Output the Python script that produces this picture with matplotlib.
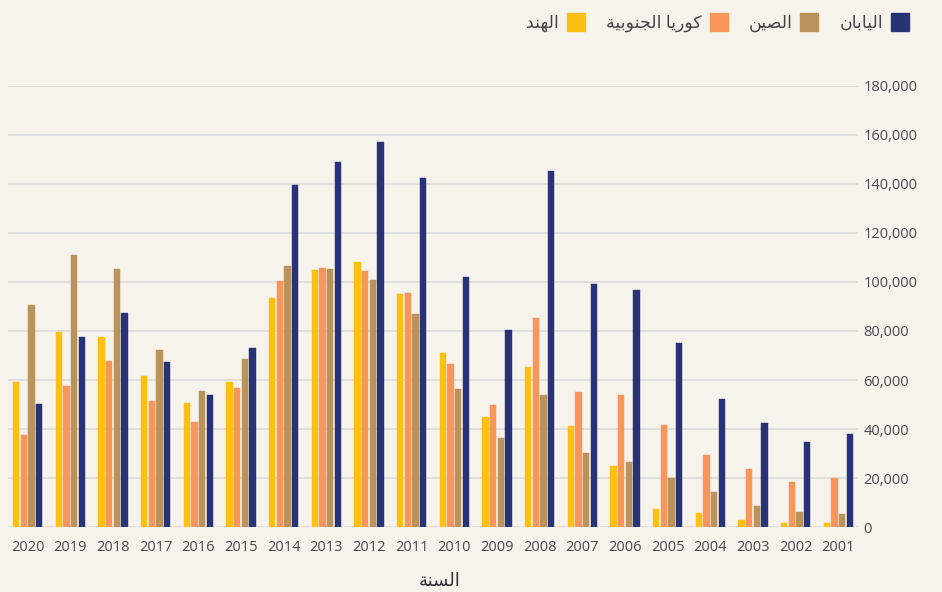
import matplotlib
matplotlib.use("Agg")
import matplotlib.pyplot as plt
import numpy as np
from matplotlib.patches import Patch
from matplotlib.ticker import FuncFormatter

# ---------------- data ----------------
years = ["2020", "2019", "2018", "2017", "2016", "2015", "2014", "2013", "2012", "2011",
         "2010", "2009", "2008", "2007", "2006", "2005", "2004", "2003", "2002", "2001"]

india = [59100, 79400, 77500, 61600, 50800, 59100, 93400, 104800, 108100, 95000,
         70900, 44800, 65300, 41400, 25100, 7500, 6000, 2900, 1800, 1800]
south_korea = [37600, 57400, 67800, 51600, 42900, 56900, 100500, 105600, 104600, 95300,
               66400, 49700, 85400, 55000, 54000, 41700, 29300, 23900, 18300, 20000]
china = [90600, 110900, 105200, 72200, 55700, 68600, 106500, 105400, 100600, 86900,
         56300, 36500, 53800, 30300, 26600, 20100, 14300, 8800, 6100, 5600]
japan = [50200, 77500, 87400, 67500, 53900, 72900, 139400, 148700, 157000, 142300,
         102200, 80500, 145200, 99100, 96500, 75100, 52300, 42500, 34900, 38000]

series_names = ["الهند", "كوريا الجنوبية", "الصين", "اليابان"]
x_title = "السنة"
y_ticks = [0, 20000, 40000, 60000, 80000, 100000, 120000, 140000, 160000, 180000]

colors = ["#FEC010", "#F7955B", "#BA935B", "#283377"]
bg = "#F6F2EC"

# ---------- minimal Arabic shaping (logical -> visual presentation forms) ----------
_FORMS = {
    'ا': ('\uFE8D', '\uFE8E', None, None),
    'ب': ('\uFE8F', '\uFE90', '\uFE91', '\uFE92'),
    'ة': ('\uFE93', '\uFE94', None, None),
    'ج': ('\uFE9D', '\uFE9E', '\uFE9F', '\uFEA0'),
    'د': ('\uFEA9', '\uFEAA', None, None),
    'ر': ('\uFEAD', '\uFEAE', None, None),
    'س': ('\uFEB1', '\uFEB2', '\uFEB3', '\uFEB4'),
    'ص': ('\uFEB9', '\uFEBA', '\uFEBB', '\uFEBC'),
    'ك': ('\uFED9', '\uFEDA', '\uFEDB', '\uFEDC'),
    'ل': ('\uFEDD', '\uFEDE', '\uFEDF', '\uFEE0'),
    'ن': ('\uFEE5', '\uFEE6', '\uFEE7', '\uFEE8'),
    'ه': ('\uFEE9', '\uFEEA', '\uFEEB', '\uFEEC'),
    'و': ('\uFEED', '\uFEEE', None, None),
    'ي': ('\uFEF1', '\uFEF2', '\uFEF3', '\uFEF4'),
}


def shape(s):
    out = []
    for i, c in enumerate(s):
        f = _FORMS.get(c)
        if f is None:
            out.append(c)
            continue
        prev = s[i - 1] if i > 0 else ''
        nxt = s[i + 1] if i + 1 < len(s) else ''
        jp = prev in _FORMS and _FORMS[prev][2] is not None
        jn = f[2] is not None and nxt in _FORMS
        if jp and jn:
            out.append(f[3])
        elif jp:
            out.append(f[1])
        elif jn:
            out.append(f[2])
        else:
            out.append(f[0])
    return ''.join(reversed(out))


plt.rcParams['font.family'] = ['Open Sans', 'DejaVu Sans']

W, H = 942, 592
fig = plt.figure(figsize=(W / 100, H / 100), dpi=100, facecolor=bg)
ax = fig.add_axes([8 / W, (H - 527.3) / H, 850 / W, (527.3 - 85.6) / H])
ax.set_facecolor(bg)

data = [india, south_korea, china, japan]
x = np.arange(len(years))
slot = 0.18
bw = 0.148
for k, (vals, col) in enumerate(zip(data, colors)):
    ax.bar(x + (k - 1.5) * slot, vals, width=bw, color=col, zorder=3,
           edgecolor=col, linewidth=0.3)

ax.set_xlim(-0.46, len(years) - 1 + 0.46)
ax.set_ylim(0, 180000)
ax.set_xticks(x)
ax.set_xticklabels(years)
ax.set_yticks(y_ticks)
ax.yaxis.set_major_formatter(FuncFormatter(lambda v, p: f"{v:,.0f}"))
ax.yaxis.tick_right()
ax.tick_params(axis='y', length=0, pad=4, labelsize=10.5, labelcolor="#4a4a4a")
ax.tick_params(axis='x', length=0, pad=9, labelsize=10.5, labelcolor="#4a4a4a")
for s in ax.spines.values():
    s.set_visible(False)
ax.grid(axis='y', color="#DCDCDC", linewidth=1.3, zorder=0)
ax.set_axisbelow(True)

fig.text(440 / W, 1 - 581 / H, shape(x_title), ha='center', va='center',
         fontsize=13, color="#333333")

handles = [Patch(facecolor=c, edgecolor=c) for c in colors]
labels = [shape(n) for n in series_names]
leg = fig.legend(handles, labels, loc='upper right', bbox_to_anchor=(909 / W, 1 - 13 / H),
                 ncol=4, frameon=False, markerfirst=False, fontsize=12.5,
                 handlelength=1.05, handleheight=1.25, handletextpad=0.45,
                 columnspacing=1.2, borderpad=0, borderaxespad=0)
for t in leg.get_texts():
    t.set_color("#444444")

fig.savefig("out.png", dpi=100, facecolor=bg)
